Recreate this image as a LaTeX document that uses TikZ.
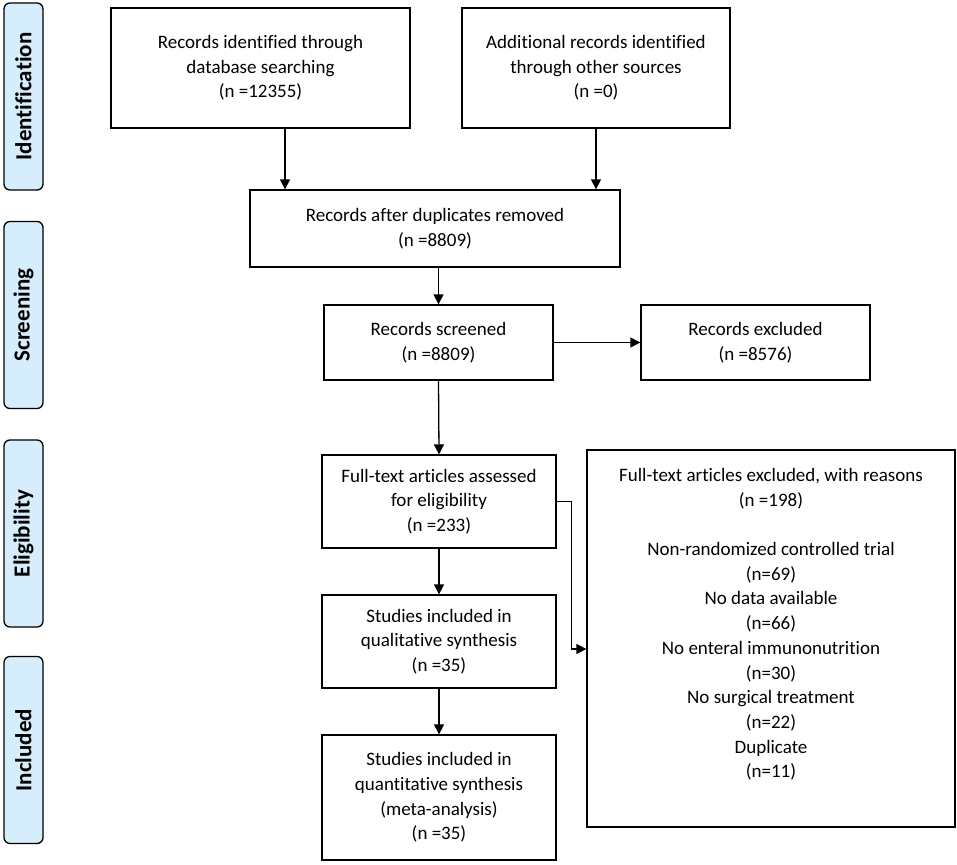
\documentclass[tikz,border=0pt]{standalone}
\usepackage{fontspec}
\setmainfont{Carlito}[Ligatures=NoCommon]
\usetikzlibrary{arrows.meta}
\definecolor{labblue}{RGB}{214,237,251}
\begin{document}
\begin{tikzpicture}[x=1pt,y=-1pt,
 box/.style={draw=black, line width=1.3pt, align=center, inner sep=0pt,
   font=\fontsize{19}{24.7}\selectfont},
 txt/.style={align=center, inner sep=0pt, font=\fontsize{19}{24.7}\selectfont},
 lab/.style={draw=black, line width=1.3pt, fill=labblue, rounded corners=6pt,
   rotate=90, minimum height=39pt, inner sep=0pt,
   font=\bfseries\fontsize{23}{26}\selectfont},
 arr/.style={line width=1.3pt, -{Triangle[length=10pt,width=10pt]}}
]
\useasboundingbox (0,0) rectangle (957,864);
% phase labels
\node[lab, minimum width=187pt] (lid) at (23.5,96.5) {Identification};
\node[lab, minimum width=187pt] (lsc) at (23.5,315) {Screening};
\node[lab, minimum width=187pt] (lel) at (23.5,533.5) {Eligibility};
\node[lab, minimum width=187pt] (lin) at (23.5,750) {Included};
% boxes
\node[box, minimum width=299pt, minimum height=120pt] (rec) at (260.5,68)
  {Records identified through\\database searching\\(n =12355)};
\node[box, minimum width=268pt, minimum height=120pt] (add) at (596,68)
  {Additional records identified\\through other sources\\(n =0)};
\node[box, minimum width=370pt, minimum height=77pt] (dup) at (435,228.5)
  {Records after duplicates removed\\(n =8809)};
\node[box, minimum width=229pt, minimum height=75pt] (scr) at (438.5,342.5)
  {Records screened\\(n =8809)};
\node[box, minimum width=229pt, minimum height=75pt] (exc) at (755.5,342.5)
  {Records excluded\\(n =8576)};
\node[box, minimum width=234pt, minimum height=93pt] (full) at (439,501.5)
  {Full-text articles assessed\\for eligibility\\(n =233)};
\node[box, minimum width=234pt, minimum height=93pt] (qual) at (439,641.5)
  {Studies included in\\qualitative synthesis\\(n =35)};
\node[box, minimum width=234pt, minimum height=125pt] (quant) at (439,797.5)
  {Studies included in\\quantitative synthesis\\(meta-analysis)\\(n =35)};
\node[box, minimum width=368pt, minimum height=377pt] (ftex) at (771,638.5) {};
\node[txt, anchor=north] (ftext) at (771,468)
  {Full-text articles excluded, with reasons\\(n =198)\\[24.7pt]
   Non-randomized controlled trial\\(n=69)\\No data available\\(n=66)\\
   No enteral immunonutrition\\(n=30)\\No surgical treatment\\(n=22)\\
   Duplicate\\(n=11)};
% connectors
\draw[arr] ([xshift=24.5pt]rec.south) -- ([xshift=24.5pt]rec.south |- dup.north);
\draw[arr] (add.south) -- (add.south |- dup.north);
\draw[arr] (scr.north |- dup.south) -- (scr.north);
\draw[arr] (scr.east) -- (exc.west);
\draw[arr] (scr.south) -- (full.north);
\draw[arr] (full.south) -- (qual.north);
\draw[arr] (qual.south) -- (quant.north);
\coordinate (elb) at ([xshift=15pt]full.east);
\draw[arr] (full.east) -- (elb) |- ([yshift=-10.5pt]ftex.west);
\end{tikzpicture}
\end{document}
